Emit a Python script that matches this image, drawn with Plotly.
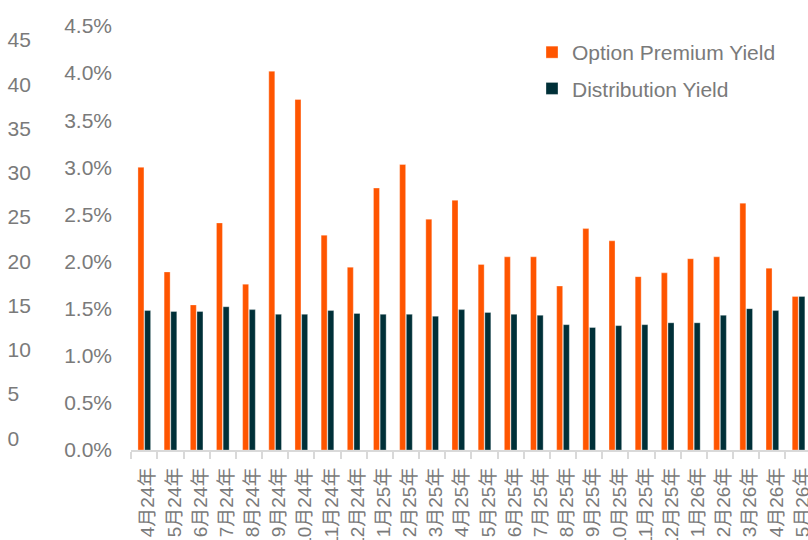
import plotly.graph_objects as go

# --- données ---
mois = ["4月24年", "5月24年", "6月24年", "7月24年", "8月24年", "9月24年", "10月24年",
        "11月24年", "12月24年", "1月25年", "2月25年", "3月25年", "4月25年", "5月25年",
        "6月25年", "7月25年", "8月25年", "9月25年", "10月25年", "11月25年", "12月25年",
        "1月26年", "2月26年", "3月26年", "4月26年", "5月26年"]

option_premium = [3.00, 1.89, 1.54, 2.41, 1.76, 4.02, 3.72, 2.28, 1.94, 2.78, 3.03, 2.45,
                  2.65, 1.97, 2.05, 2.05, 1.74, 2.35, 2.22, 1.84, 1.88, 2.03, 2.05, 2.62,
                  1.93, 1.63]
distribution = [1.48, 1.47, 1.47, 1.52, 1.49, 1.44, 1.44, 1.48, 1.45, 1.44, 1.44, 1.42,
                1.49, 1.46, 1.44, 1.43, 1.33, 1.30, 1.32, 1.33, 1.35, 1.35, 1.43, 1.50,
                1.48, 1.63]

pct_ticks = [0, 0.5, 1.0, 1.5, 2.0, 2.5, 3.0, 3.5, 4.0, 4.5]
num_ticks = [0, 5, 10, 15, 20, 25, 30, 35, 40, 45]

COLORS = {"orange": "#ff5500", "teal": "#003038", "text": "#7a7a7a", "axis": "#d9d9d9"}
W, H = 808, 540
FONT = "Liberation Sans, Arial, Noto Sans CJK SC, sans-serif"

x0 = 131.2      # bord gauche de la zone de tracé (px)
cat_w = 26.17   # largeur d'une catégorie (px)
base = 450      # ligne 0 %
top = 26        # 4.5 %

fig = go.Figure()
fig.add_trace(go.Bar(x=mois, y=option_premium, name="Option Premium Yield",
                     legendgroup="a", marker_color=COLORS["orange"],
                     marker_line=dict(color="rgba(255,255,255,0.4)", width=0.8)))
fig.add_trace(go.Bar(x=mois, y=distribution, name="Distribution Yield",
                     legendgroup="b", marker_color=COLORS["teal"],
                     marker_line=dict(color="rgba(255,255,255,0.4)", width=0.8)))
# trace vide pour afficher l'axe 0-45 de gauche
fig.add_trace(go.Scatter(x=[mois[0]], y=[None], yaxis="y2", showlegend=False,
                         hoverinfo="skip", mode="markers"))

fig.update_layout(
    width=W, height=H,
    margin=dict(l=0, r=0, t=0, b=0),
    paper_bgcolor="white", plot_bgcolor="white",
    font=dict(family=FONT, size=21, color=COLORS["text"]),
    barmode="group", bargap=0.49, bargroupgap=0.1,
    xaxis=dict(domain=[x0 / W, 1], range=[-0.5, -0.5 + (W - x0) / cat_w], type="category",
               tickangle=-90, tickfont=dict(size=19, color=COLORS["text"]),
               ticklabelstandoff=8, ticklabelshift=4,
               showline=True, linecolor=COLORS["axis"], linewidth=2,
               ticks="outside", tickson="boundaries", ticklen=7, tickcolor=COLORS["axis"],
               tickwidth=2, showgrid=False, automargin=False, anchor="y"),
    yaxis=dict(domain=[(H - base) / H, (H - top) / H], range=[0, 4.5],
               tickvals=pct_ticks, ticktext=[f"{v:.1f}%" for v in pct_ticks],
               showgrid=False, zeroline=False, showline=False, ticks="",
               anchor="free", position=112 / W, automargin=False),
    yaxis2=dict(overlaying="y", side="right", anchor="free", position=6.5 / W,
                range=[-1.322, 46.58], tickvals=num_ticks,
                showgrid=False, zeroline=False, showline=False, ticks="",
                automargin=False),
    legend=dict(x=532 / W, y=1 - 32 / H, xanchor="left", yanchor="top",
                font=dict(size=21, color=COLORS["text"]),
                traceorder="grouped", tracegroupgap=6, bgcolor="rgba(0,0,0,0)"),
)

fig.write_html("out.html", config={"displayModeBar": False},
               post_script="document.body.style.margin='0';document.body.style.overflow='hidden';")
